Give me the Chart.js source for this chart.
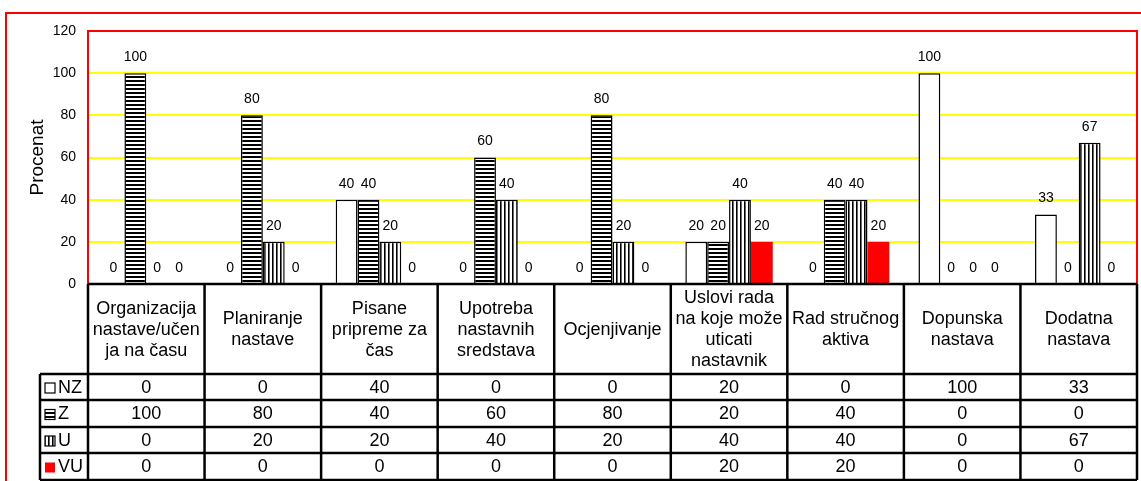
<!DOCTYPE html>
<html>
<head>
<meta charset="utf-8">
<script src="https://cdn.jsdelivr.net/npm/chart.js@4.4.1/dist/chart.umd.min.js"></script>
<style>
    html, body { margin: 0; padding: 0; background: #ffffff; }
    #wrap { width: 1141px; height: 481px; }
</style>
</head>
<body>
<div id="wrap"><canvas id="chart" width="1141" height="481"></canvas></div>
<script>
// Categories (line breaks as in the data table)
const categories = [
    ["Organizacija", "nastave/učen", "ja na času"],
    ["Planiranje", "nastave"],
    ["Pisane", "pripreme za", "čas"],
    ["Upotreba", "nastavnih", "sredstava"],
    ["Ocjenjivanje"],
    ["Uslovi rada", "na koje može", "uticati", "nastavnik"],
    ["Rad stručnog", "aktiva"],
    ["Dopunska", "nastava"],
    ["Dodatna", "nastava"]
];
const seriesNames = ["NZ", "Z", "U", "VU"];
const nzValues = [0, 0, 40, 0, 0, 20, 0, 100, 33];
const zValues  = [100, 80, 40, 60, 80, 20, 40, 0, 0];
const uValues  = [0, 20, 20, 40, 20, 40, 40, 0, 67];
const vuValues = [0, 0, 0, 0, 0, 20, 20, 0, 0];
const yTicks = [0, 20, 40, 60, 80, 100, 120];

const FONT = "'Liberation Sans', Arial, sans-serif";

// Fill patterns like the Excel original
function makePattern(kind) {
    const tile = document.createElement("canvas");
    tile.width = 4;
    tile.height = 4;
    const t = tile.getContext("2d");
    t.fillStyle = "#ffffff";
    t.fillRect(0, 0, 4, 4);
    if (kind === "h") {
        t.fillStyle = "#000000";
        t.fillRect(0, 0, 4, 2);
    } else {
        t.fillStyle = "#000000";
        t.fillRect(0, 0, 1, 4);
        t.fillStyle = "#666666";
        t.fillRect(1, 0, 1, 4);
    }
    return document.getElementById("chart").getContext("2d").createPattern(tile, "repeat");
}
const hStripes = makePattern("h");
const vStripes = makePattern("v");

const seriesFills = ["#ffffff", hStripes, vStripes, "#ff0000"];

// Frame, plot border and the data table under the axis
const framePlugin = {
    id: "frame",
    beforeDraw(chart) {
        const ctx = chart.ctx;
        ctx.save();
        ctx.fillStyle = "#ffffff";
        ctx.fillRect(0, 0, chart.width, chart.height);
        ctx.strokeStyle = "#ff0000";
        ctx.lineWidth = 2;
        ctx.beginPath();
        ctx.moveTo(6, chart.height + 2);
        ctx.lineTo(6, 13);
        ctx.lineTo(chart.width + 2, 13);
        ctx.stroke();
        ctx.restore();
    },
    afterDatasetsDraw(chart) {
        const ctx = chart.ctx;
        const a = chart.chartArea;
        const x = chart.scales.x;
        ctx.save();

        // value labels above bars
        ctx.fillStyle = "#000000";
        ctx.font = "14px " + FONT;
        ctx.textAlign = "center";
        ctx.textBaseline = "middle";
        chart.data.datasets.forEach((ds, di) => {
            chart.getDatasetMeta(di).data.forEach((bar, i) => {
                ctx.fillText(String(ds.data[i]), bar.x, bar.y - 16);
            });
        });

        // plot area border
        ctx.strokeStyle = "#ff0000";
        ctx.lineWidth = 2;
        ctx.beginPath();
        ctx.moveTo(a.left, a.bottom);
        ctx.lineTo(a.left, a.top);
        ctx.lineTo(a.right, a.top);
        ctx.lineTo(a.right, a.bottom);
        ctx.stroke();

        // table
        const step = x.getPixelForValue(1) - x.getPixelForValue(0);
        const rows = [374, 400, 427, 453, 480];
        const legendLeft = 40;
        ctx.strokeStyle = "#000000";
        ctx.lineWidth = 2.5;
        ctx.beginPath();
        ctx.moveTo(a.left, a.bottom);
        ctx.lineTo(a.right, a.bottom);
        rows.forEach(y => {
            ctx.moveTo(legendLeft, y);
            ctx.lineTo(a.right, y);
        });
        ctx.moveTo(legendLeft, rows[0]);
        ctx.lineTo(legendLeft, rows[rows.length - 1]);
        for (let i = 0; i <= categories.length; i++) {
            const bx = x.getPixelForValue(0) - step / 2 + i * step;
            ctx.moveTo(bx, a.bottom);
            ctx.lineTo(bx, rows[rows.length - 1]);
        }
        ctx.stroke();

        // category names
        ctx.font = "18px " + FONT;
        const catMid = (a.bottom + rows[0]) / 2 + 1;
        categories.forEach((lines, i) => {
            const cx = x.getPixelForValue(i);
            lines.forEach((line, j) => {
                ctx.fillText(line, cx, catMid + (j - (lines.length - 1) / 2) * 21);
            });
        });

        // values and legend keys
        chart.data.datasets.forEach((ds, di) => {
            const cy = (rows[di] + rows[di + 1]) / 2 + 1;
            ds.data.forEach((v, i) => {
                ctx.fillText(String(v), x.getPixelForValue(i), cy);
            });
            const ky = cy - 5;
            ctx.fillStyle = seriesFills[di];
            ctx.fillRect(45, ky, 10, 10);
            if (di < 3) {
                ctx.lineWidth = 1.2;
                ctx.strokeRect(45, ky, 10, 10);
            }
            ctx.fillStyle = "#000000";
            ctx.textAlign = "left";
            ctx.fillText(seriesNames[di], 58, cy);
            ctx.textAlign = "center";
        });
        ctx.restore();
    }
};

const datasets = [nzValues, zValues, uValues, vuValues].map((values, i) => ({
    label: seriesNames[i],
    data: values,
    backgroundColor: seriesFills[i],
    borderColor: "#000000",
    borderWidth: i < 3 ? 1.5 : 0,
    borderSkipped: "bottom",
    categoryPercentage: 0.75,
    barPercentage: 1.0
}));

new Chart(document.getElementById("chart"), {
    type: "bar",
    data: {
        labels: categories.map(c => c.join(" ")),
        datasets: datasets
    },
    plugins: [framePlugin],
    options: {
        responsive: false,
        animation: false,
        layout: { padding: { top: 31, right: 4, left: 0, bottom: 0 } },
        plugins: {
            legend: { display: false },
            tooltip: { enabled: false }
        },
        scales: {
            x: {
                grid: { display: false },
                border: { display: false },
                ticks: { display: false },
                afterFit: s => { s.height = 197; }
            },
            y: {
                min: yTicks[0],
                max: yTicks[yTicks.length - 1],
                afterBuildTicks: s => { s.ticks = yTicks.map(v => ({ value: v })); },
                border: { display: false },
                grid: {
                    drawTicks: false,
                    tickLength: 0,
                    lineWidth: 2,
                    color: c => (c.tick && c.tick.value > 0 && c.tick.value < 120) ? "#ffff00" : "rgba(0,0,0,0)"
                },
                ticks: {
                    padding: 12,
                    color: "#000000",
                    font: { family: FONT, size: 14 }
                },
                title: {
                    display: true,
                    text: "Procenat",
                    color: "#000000",
                    font: { family: FONT, size: 19 },
                    padding: { top: 26, bottom: 0 }
                },
                afterFit: s => { s.width = 88; }
            }
        }
    }
});
</script>
</body>
</html>
